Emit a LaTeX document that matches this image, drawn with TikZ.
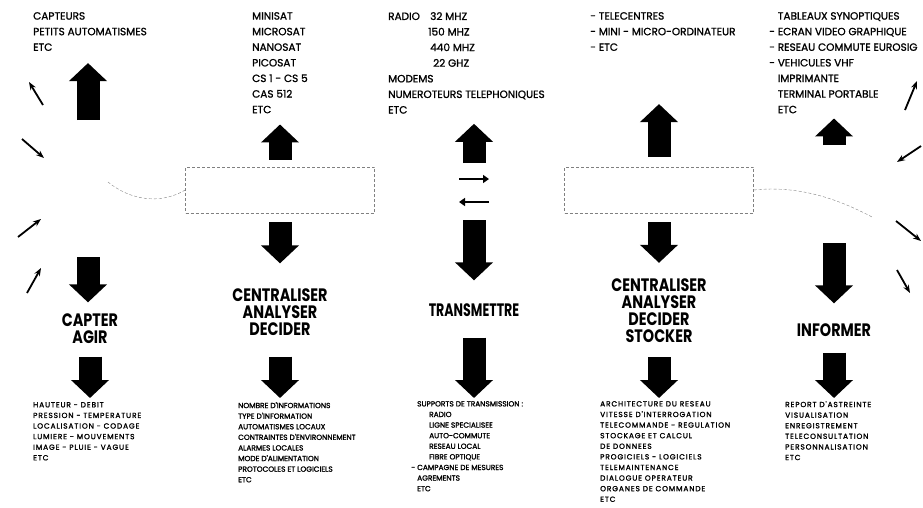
\documentclass[tikz,border=0pt]{standalone}
\usepackage{fontspec}
\setmainfont{Poppins}
\newfontfamily\thinfont{Poppins}[FakeBold=1.2]
\newfontfamily\narrowfont{Poppins}[FakeBold=1.6]
\newfontfamily\listfont{Poppins}[FakeBold=1.6, LetterSpace=12]
\newfontfamily\verbfont{Poppins}[FakeStretch=0.8]
\newfontfamily\tightfont{Poppins}[FakeStretch=0.7]
\usetikzlibrary{arrows.meta,positioning}

\begin{document}
\begin{tikzpicture}[x=1pt, y=-1pt,
  toptxt/.style={anchor=north west, inner sep=0pt, align=left, font=\thinfont\fontsize{10.5}{15.6}\selectfont},
  bottxt/.style={anchor=north west, inner sep=0pt, align=left, font=\listfont\fontsize{7.4}{10.6}\selectfont},
  slimtxt/.style={bottxt, font=\narrowfont\fontsize{7.4}{10.6}\selectfont},
  verb/.style={inner sep=0pt, align=center, font=\verbfont\bfseries\fontsize{18}{17}\selectfont},
  bigarr/.style={line width=23pt, -{Triangle[length=18pt, width=37pt]}},
  smallarr/.style={line width=2.5pt, -{Triangle[length=6pt, width=8pt]}},
  turn/.style={line width=1.8pt, -{Stealth[length=8pt, width=6pt]}},
  hubbox/.style={draw=gray, densely dashed, line width=0.5pt, minimum width=189pt, minimum height=46pt, inner sep=0pt},
  trail/.style={draw=gray, densely dashed, line width=0.4pt}]
  \useasboundingbox (0,0) rectangle (923,507);

  % what each function gets from / gives to
  \node[toptxt] (capteurs) at (33,12) {CAPTEURS\\PETITS AUTOMATISMES\\ETC};
  \node[toptxt] (sats) at (252,12) {MINISAT\\MICROSAT\\NANOSAT\\PICOSAT\\CS 1 - CS 5\\CAS 512\\ETC};
  \node[toptxt] (radio) at (388,12) {\makebox[42pt][l]{RADIO}32 MHZ\\\hspace*{40pt}150 MHZ\\\hspace*{42pt}440 MHZ\\\hspace*{45pt}22 GHZ\\MODEMS\\NUMEROTEURS TELEPHONIQUES\\ETC};
  \node[toptxt] (tele) at (590,12) {- TELECENTRES\\- MINI - MICRO-ORDINATEUR\\- ETC};
  \node[toptxt] (tabl) at (769,12) {\phantom{- }TABLEAUX SYNOPTIQUES\\- ECRAN VIDEO GRAPHIQUE\\- RESEAU COMMUTE EUROSIG\\- VEHICULES VHF\\\phantom{- }IMPRIMANTE\\\phantom{- }TERMINAL PORTABLE\\\phantom{- }ETC};

  \node[hubbox] (hub2) at (280,190) {};
  \node[hubbox] (hub4) at (659,190) {};

  \node[verb] (capter) at (90,328.5) {CAPTER\\AGIR};
  \node[verb] (central) at (280,312) {CENTRALISER\\ANALYSER\\DECIDER};
  \node[verb, font=\tightfont\bfseries\fontsize{18}{17}\selectfont] (transm) at (474,310) {TRANSMETTRE};
  \node[verb] (stocker) at (659,311) {CENTRALISER\\ANALYSER\\DECIDER\\STOCKER};
  \node[verb] (inform) at (834,330) {INFORMER};

  \node[bottxt] (b1) at (33,402) {HAUTEUR - DEBIT\\PRESSION - TEMPERATURE\\LOCALISATION - CODAGE\\LUMIERE - MOUVEMENTS\\IMAGE - PLUIE - VAGUE\\ETC};
  \node[slimtxt] (b2) at (238,402) {NOMBRE D'INFORMATIONS\\TYPE D'INFORMATION\\AUTOMATISMES LOCAUX\\CONTRAINTES D'ENVIRONNEMENT\\ALARMES LOCALES\\MODE D'ALIMENTATION\\PROTOCOLES ET LOGICIELS\\ETC};
  \node[slimtxt] (b3) at (417,401) {SUPPORTS DE TRANSMISSION :\\\hspace*{12pt}RADIO\\\hspace*{12pt}LIGNE SPECIALISEE\\\hspace*{12pt}AUTO-COMMUTE\\\hspace*{12pt}RESEAU LOCAL\\\hspace*{12pt}FIBRE OPTIQUE\\\llap{- }CAMPAGNE DE MESURES\\AGREMENTS\\ETC};
  \node[bottxt] (b4) at (600,401) {ARCHITECTURE DU RESEAU\\VITESSE D'INTERROGATION\\TELECOMMANDE - REGULATION\\STOCKAGE ET CALCUL\\DE DONNEES\\PROGICIELS - LOGICIELS\\TELEMAINTENANCE\\DIALOGUE OPERATEUR\\ORGANES DE COMMANDE\\ETC};
  \node[bottxt] (b5) at (785,401) {REPORT D'ASTREINTE\\VISUALISATION\\ENREGISTREMENT\\TELECONSULTATION\\PERSONNALISATION\\ETC};

  % free ends of the big arrows
  \coordinate (src1) at (88,120);
  \coordinate (src3) at (474,163);
  \coordinate (src5) at (834,145);
  \coordinate (low1) at (88,257);
  \coordinate (low3) at (474,220);
  \coordinate (low5) at (834,243);

  % upward
  \draw[bigarr, shorten >=12pt] (src1) -- (src1 |- capteurs.south);
  \draw[bigarr, shorten <=7pt, shorten >=11pt] (hub2.north) -- (hub2.north |- sats.south);
  \draw[bigarr, shorten >=10pt] (src3) -- (src3 |- radio.south);
  \draw[bigarr, shorten <=10pt, shorten >=53pt] (hub4.north) -- (hub4.north |- tele.south);
  \draw[bigarr, shorten >=5pt] (src5) -- (src5 |- tabl.south);

  % downward to the functions
  \draw[bigarr, shorten >=11pt] (low1) -- (low1 |- capter.north);
  \draw[bigarr, shorten <=9pt, shorten >=25pt] (hub2.south) -- (central.north);
  \draw[bigarr, shorten >=23pt] (low3) -- (transm.north);
  \draw[bigarr, shorten <=9pt, shorten >=16pt] (hub4.south) -- (stocker.north);
  \draw[bigarr, shorten >=20pt] (low5) -- (inform.north);

  % downward to the lists
  \draw[bigarr, shorten <=13pt, shorten >=4pt] (capter.south) -- (capter.south |- b1.north);
  \draw[bigarr, shorten <=21pt, shorten >=4pt] (central.south) -- (central.south |- b2.north);
  \draw[bigarr, shorten <=21pt, shorten >=3pt] (transm.south) -- (transm.south |- b3.north);
  \draw[bigarr, shorten <=14pt, shorten >=3pt] (stocker.south) -- (stocker.south |- b4.north);
  \draw[bigarr, shorten <=16pt, shorten >=3pt] (inform.south) -- (inform.south |- b5.north);

  % exchange between the two hubs
  \coordinate (txa) at (459,179);
  \coordinate (txb) at (489,179);
  \coordinate (rxa) at (489,202);
  \coordinate (rxb) at (459,202);
  \draw[smallarr] (txa) -- (txb);
  \draw[smallarr] (rxa) -- (rxb);

  % loops round the edges
  \draw[trail] (hub2.west) .. controls (160,205) and (130,200) .. (108,182);
  \draw[trail] (hub4.east) .. controls (800,185) and (840,200) .. (872,217);
  \draw[turn] (43,105) -- (29,82);
  \draw[turn] (22,139) -- (44,158);
  \draw[turn] (18,237) -- (41,219);
  \draw[turn] (27,293) -- (41,268);
  \draw[turn] (905,110) -- (917,81);
  \draw[turn] (921,146) -- (897,162);
  \draw[turn] (896,221) -- (921,241);
  \draw[turn] (897,270) -- (910,293);
\end{tikzpicture}
\end{document}
